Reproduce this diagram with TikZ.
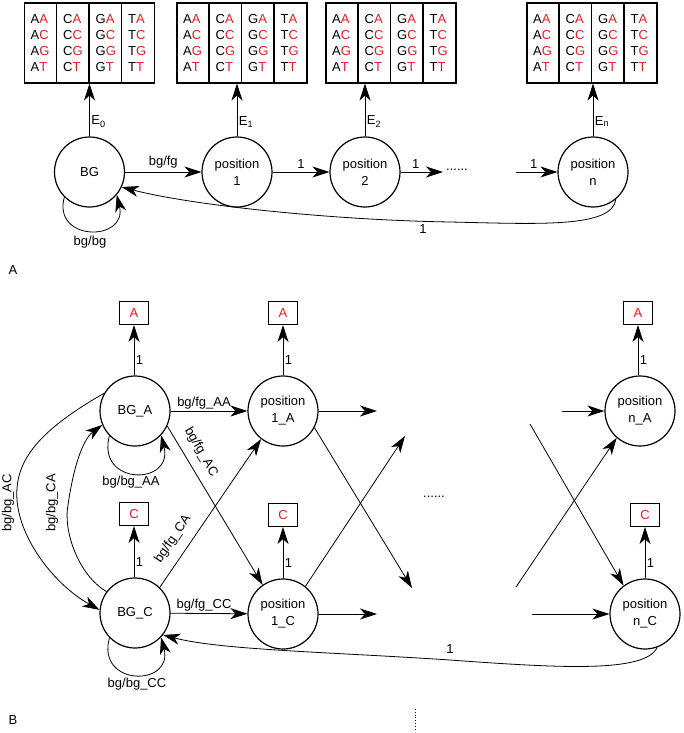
\documentclass[tikz,border=0pt]{standalone}
\usepackage{fontspec}
\setmainfont{Liberation Sans}
\usetikzlibrary{arrows.meta}
\definecolor{myred}{RGB}{225,30,35}
\newcommand\colt[1]{#1\textcolor{myred}{A}\\#1\textcolor{myred}{C}\\#1\textcolor{myred}{G}\\#1\textcolor{myred}{T}}
\begin{document}
\begin{tikzpicture}[x=1pt,y=-1pt, font=\fontsize{13}{17}\selectfont,
  st/.style={circle, draw, line width=1.2pt, minimum size=70pt, inner sep=0pt, align=center},
  tab/.style={draw, line width=1.1pt, minimum width=130pt, minimum height=80pt, inner sep=0pt},
  col/.style={align=left, inner sep=0pt, font=\fontsize{13}{16}\selectfont, anchor=west},
  ar/.style={-{Stealth[length=17pt,width=11pt,inset=5pt]}, line width=0.8pt},
  sbox/.style={draw, line width=1.1pt, minimum width=29pt, minimum height=23pt, text=myred, inner sep=0pt},
  lbl/.style={font=\fontsize{13}{15}\selectfont, inner sep=1.5pt}
]
\useasboundingbox (0,0) rectangle (684,733);

% ---------- Part A ----------
\foreach \n/\cx in {t0/89.5, t1/242, t2/391, t3/592}{
  \node[tab] (\n) at (\cx,43) {};
  \foreach \i in {1,2,3}{
    \draw[line width=1.1pt] ([xshift=32.5*\i pt]\n.north west) -- ([xshift=32.5*\i pt]\n.south west);
  }
  \node[col] at ([xshift=6.5pt]\n.west) {\colt{A}};
  \node[col] at ([xshift=39pt]\n.west) {\colt{C}};
  \node[col] at ([xshift=71.5pt]\n.west) {\colt{G}};
  \node[col] at ([xshift=104pt]\n.west) {\colt{T}};
}

\node[st] (bg) at (89.5,172) {BG};
\node[st] (p1) at (237,172) {position\\1};
\node[st] (p2) at (365,172) {position\\2};
\node[st] (pn) at (593,172) {position\\n};

\draw[ar] (bg.north) -- (bg.north |- t0.south) node[lbl, pos=0.28, right] {E\textsubscript{0}};
\draw[ar] (p1.north) -- (p1.north |- t1.south) node[lbl, pos=0.28, right] {E\textsubscript{1}};
\draw[ar] (p2.north) -- (p2.north |- t2.south) node[lbl, pos=0.28, right] {E\textsubscript{2}};
\draw[ar] (pn.north) -- (pn.north |- t3.south) node[lbl, pos=0.28, right] {E\textsubscript{n}};

\draw[ar] (bg) -- (p1) node[lbl, midway, above, yshift=2pt] {bg/fg};
\draw[ar] (p1) -- (p2) node[lbl, midway, above, yshift=2pt] {1};
\node[lbl, inner sep=0pt] (dA) at (457,170) {......};
\coordinate (dAe) at (443,172);
\draw[ar] (p2) -- (dAe) node[lbl, midway, above, xshift=-6pt, yshift=2pt] {1};
\coordinate (inA) at (516,172);
\draw[ar] (inA) -- (pn) node[lbl, midway, above, xshift=-3pt, yshift=2pt] {1};

\draw[ar] (bg.225) .. controls (52,242) and (128,242) .. (bg.-40);
\node[lbl] (lbb) at (90,242) {bg/bg};

\coordinate (rA) at (450,222);
\draw[ar] (pn.-50) .. controls (612,228) and (540,224) .. (rA) .. controls (330,220) and (190,205) .. (bg.-25);
\node[lbl] (l1A) at (423,229) {1};

\node[lbl] (labA) at (13,270) {A};

% ---------- Part B ----------
\node[st] (bga) at (135,411) {BG\_A};
\node[st] (pa1) at (283,411) {position\\1\_A};
\node[st] (pan) at (640,411) {position\\n\_A};
\node[st] (bgc) at (135,613) {BG\_C};
\node[st] (pc1) at (283,614) {position\\1\_C};
\node[st] (pcn) at (645,614) {position\\n\_C};

\node[sbox] (xa0) at (134,313) {A};
\node[sbox] (xa1) at (283,313) {A};
\node[sbox] (xan) at (638,313) {A};
\node[sbox] (xc0) at (134,514) {C};
\node[sbox] (xc1) at (283,515) {C};
\node[sbox] (xcn) at (645,515) {C};

\draw[ar] (xa0.south |- bga.north) -- (xa0.south) node[lbl, pos=0.3, right] {1};
\draw[ar] (xa1.south |- pa1.north) -- (xa1.south) node[lbl, pos=0.3, right] {1};
\draw[ar] (xan.south |- pan.north) -- (xan.south) node[lbl, pos=0.3, right] {1};
\draw[ar] (xc0.south |- bgc.north) -- (xc0.south) node[lbl, pos=0.3, right] {1};
\draw[ar] (xc1.south |- pc1.north) -- (xc1.south) node[lbl, pos=0.3, right] {1};
\draw[ar] (xcn.south |- pcn.north) -- (xcn.south) node[lbl, pos=0.3, right] {1};

\draw[ar] (bga) -- (pa1) node[lbl, midway, above, xshift=-5pt] {bg/fg\_AA};
\draw[ar] (bgc) -- (pc1) node[lbl, midway, above, xshift=-5pt] {bg/fg\_CC};
\draw[ar] (bga.-25) -- (pc1.125);
\node[lbl, rotate=-60, inner sep=0pt] (lac) at (201,452) {bg/fg\_AC};
\draw[ar] (bgc.46) -- (pa1.232);
\node[lbl, rotate=56, inner sep=0pt] (lca) at (173,539) {bg/fg\_CA};

\coordinate (ea1) at (377,411);
\coordinate (ec1) at (377,614);
\coordinate (ex1) at (412,588);
\coordinate (ex2) at (405,436);
\draw[ar] (pa1) -- (ea1);
\draw[ar] (pc1) -- (ec1);
\draw[ar] (pa1.-28) -- (ex1);
\draw[ar] (pc1.51) -- (ex2);

\node[lbl, inner sep=0pt] (dB) at (434,497) {......};

\coordinate (ina) at (562,411);
\coordinate (inc) at (532,614);
\coordinate (xs1) at (530,424);
\coordinate (xs2) at (516,587);
\draw[ar] (ina) -- (pan);
\draw[ar] (inc) -- (pcn);
\draw[ar] (xs1) -- (pcn.127);
\draw[ar] (xs2) -- (pan.229);

\draw[ar] (bga.224) .. controls (96,486) and (174,486) .. (bga.-43);
\node[lbl] (laa) at (131,482) {bg/bg\_AA};
\draw[ar] (bgc.224) .. controls (96,687) and (174,687) .. (bgc.-43);
\node[lbl] (lcc) at (137,684) {bg/bg\_CC};

\coordinate (cAC) at (17,500);
\draw[ar] (bga.150) .. controls (40,430) and (14,460) .. (cAC) .. controls (20,540) and (55,585) .. (bgc.175);
\node[lbl, rotate=90, inner sep=0pt] (lbac) at (8,503) {bg/bg\_AC};
\coordinate (cCA) at (68,505);
\draw[ar] (bgc.143) .. controls (78,575) and (63,530) .. (cCA) .. controls (73,470) and (82,440) .. (bga.203);
\node[lbl, rotate=90, inner sep=0pt] (lbca) at (52,503) {bg/bg\_CA};

\coordinate (rB) at (450,660);
\draw[ar] (pcn.-70) .. controls (645,673) and (560,668) .. (rB) .. controls (330,652) and (220,650) .. (bgc.-38);
\node[lbl] (l1B) at (450,649) {1};

\node[lbl] (labB) at (13,720) {B};
\coordinate (vd1) at (415,709);
\coordinate (vd2) at (415,730);
\draw[dotted, line width=0.8pt] (vd1) -- (vd2);
\end{tikzpicture}
\end{document}
